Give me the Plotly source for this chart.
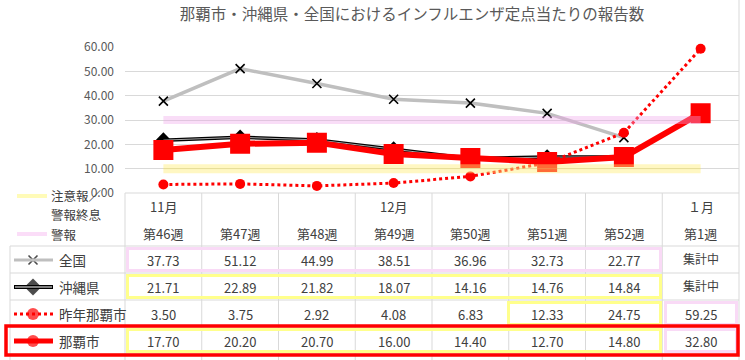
import plotly.graph_objects as go

# ---------------- data ----------------
weeks = ["第46週", "第47週", "第48週", "第49週", "第50週", "第51週", "第52週", "第1週"]
months = ["11月", "", "", "12月", "", "", "", "１月"]
zenkoku = [37.73, 51.12, 44.99, 38.51, 36.96, 32.73, 22.77, None]
okinawa = [21.71, 22.89, 21.82, 18.07, 14.16, 14.76, 14.84, None]
sakunen_naha = [3.50, 3.75, 2.92, 4.08, 6.83, 12.33, 24.75, 59.25]
naha = [17.70, 20.20, 20.70, 16.00, 14.40, 12.70, 14.80, 32.80]
chuiho_level = [10, 10, 10, 10, 10, 10, 10, 10]
keiho_level = [30, 30, 30, 30, 30, 30, 30, 30]
pending_text = "集計中"
title_text = "那覇市・沖縄県・全国におけるインフルエンザ定点当たりの報告数"
row_names = ["全国", "沖縄県", "昨年那覇市", "那覇市"]
y_ticks = [0, 10, 20, 30, 40, 50, 60]

W, H = 745, 360
FONT = "Noto Sans CJK JP"
GRID = "#D9D9D9"
TXT = "#404040"


def fx(px):
    return px / W


def fy(py):
    return 1 - py / H


xs = list(range(len(weeks)))

fig = go.Figure()

# ---------------- chart series ----------------
fig.add_trace(go.Scatter(x=xs, y=zenkoku, mode="lines+markers", name="全国",
                         line=dict(color="#BFBFBF", width=3.5),
                         marker=dict(symbol="x-thin", size=9, color="black",
                                     line=dict(color="black", width=1.6)),
                         cliponaxis=False))
fig.add_trace(go.Scatter(x=xs, y=okinawa, mode="lines+markers", name="沖縄県",
                         line=dict(color="black", width=3.5),
                         marker=dict(symbol="diamond", size=12, color="black"),
                         cliponaxis=False))
fig.add_trace(go.Scatter(x=xs, y=okinawa, mode="lines", showlegend=False,
                         line=dict(color="#A6A6A6", width=1)))
fig.add_trace(go.Scatter(x=xs, y=sakunen_naha, mode="lines+markers", name="昨年那覇市",
                         line=dict(color="#FF0000", width=3, dash="dot"),
                         marker=dict(symbol="circle", size=10, color="#FF0000"),
                         cliponaxis=False))
fig.add_trace(go.Scatter(x=xs, y=naha, mode="lines+markers", name="那覇市",
                         line=dict(color="#FF0000", width=6),
                         marker=dict(symbol="square", size=17, color="#FF0000",
                                     line=dict(color="#FF0000", width=3)),
                         cliponaxis=False))
# alert bands (semi-transparent, drawn on top)
fig.add_trace(go.Scatter(x=xs, y=chuiho_level, mode="lines", name="注意報／警報終息",
                         line=dict(color="rgba(255,238,120,0.45)", width=9)))
fig.add_trace(go.Scatter(x=xs, y=chuiho_level, mode="lines", showlegend=False,
                         line=dict(color="rgba(225,215,110,0.35)", width=1)))
fig.add_trace(go.Scatter(x=xs, y=keiho_level, mode="lines", name="警報",
                         line=dict(color="rgba(240,165,235,0.38)", width=8)))

# ---------------- layout / axes ----------------
x_dom = [fx(125), fx(739)]
y_dom = [fy(193), fy(47)]
fig.update_layout(
    width=W, height=H,
    margin=dict(l=0, r=0, t=0, b=0, pad=0, autoexpand=False),
    paper_bgcolor="white", plot_bgcolor="rgba(0,0,0,0)",
    showlegend=False, hovermode=False,
    font=dict(family=FONT, color=TXT),
    title=dict(text=title_text, x=fx(412), xanchor="center", y=fy(15), yanchor="middle",
               automargin=False,
               font=dict(family=FONT, size=15.5, color="#595959")),
    xaxis=dict(domain=x_dom, range=[-0.5, len(weeks) - 0.5], showticklabels=False,
               showgrid=False, zeroline=False, showline=False, ticks="", automargin=False),
    yaxis=dict(domain=y_dom, range=[0, 60], tickvals=y_ticks, tickformat=".2f",
               showgrid=True, gridcolor=GRID, gridwidth=1, zeroline=False,
               showline=False, ticks="", ticklabelstandoff=10, automargin=False,
               tickfont=dict(family=FONT, size=12, color="#595959")),
    xaxis2=dict(domain=[0, 1], range=[0, W], visible=False, anchor="y2", automargin=False),
    yaxis2=dict(domain=[0, 1], range=[H, 0], visible=False, anchor="x2", automargin=False),
)

shapes = []


def line(x0, y0, x1, y1, color=GRID, width=1, dash=None):
    d = dict(type="line", xref="paper", yref="paper", x0=fx(x0), y0=fy(y0),
             x1=fx(x1), y1=fy(y1), line=dict(color=color, width=width))
    if dash:
        d["line"]["dash"] = dash
    shapes.append(d)


def rect(x0, y0, x1, y1, color, width=3):
    shapes.append(dict(type="rect", xref="paper", yref="paper", x0=fx(x0), y0=fy(y0),
                       x1=fx(x1), y1=fy(y1), line=dict(color=color, width=width),
                       fillcolor="rgba(0,0,0,0)"))


# table grid
col_w = (739 - 125) / len(weeks)
line(125, 193, 739, 193)
for yy in [246, 273, 300, 327, 354]:
    line(10, yy, 739, yy)
line(10, 246, 10, 360)
for k in range(len(weeks)):
    xx = 125 + col_w * k
    line(xx, 193, xx, 360)
line(739, 0, 739, 360)

# highlight boxes
YEL = "#FFFF8C"
PNK = "#F9DAF6"
rect(127.5, 248.5, 660.5, 270.5, PNK)
rect(127.5, 275.5, 660.5, 297.5, YEL)
rect(508.5, 302.5, 660.5, 324.5, YEL)
rect(665.5, 302.5, 736.5, 324.5, PNK)
rect(127.5, 329.5, 660.5, 351.5, YEL)
rect(665.5, 329.5, 736.5, 351.5, PNK)
shapes.append(dict(type="rect", xref="paper", yref="paper", x0=fx(6), y0=fy(326),
                   x1=fx(738), y1=fy(355), line=dict(color="#FF0000", width=3.5),
                   fillcolor="rgba(0,0,0,0)"))

# legend keys (top-left)
line(17, 196, 47, 196, color="#FFFBB8", width=4)
line(17, 234, 47, 234, color="#FBDDF8", width=4)
# row legend keys
row_y = [260, 287, 314, 341]
line(14, row_y[0], 53, row_y[0], color="#BFBFBF", width=3)
line(14, row_y[1], 53, row_y[1], color="black", width=4)
line(15, row_y[1], 52, row_y[1], color="white", width=1.2)
line(14, row_y[2], 53, row_y[2], color="#FF0000", width=3, dash="dot")
line(14, row_y[3], 53, row_y[3], color="#FF0000", width=5)
fig.update_layout(shapes=shapes)

fig.add_trace(go.Scatter(x=[33, 33, 33, 33], y=row_y, xaxis="x2", yaxis="y2",
                         mode="markers", showlegend=False,
                         marker=dict(symbol=["x-thin", "diamond", "circle", "circle"],
                                     size=[9, 13, 12, 12],
                                     color=["black", "black", "#FF0000", "#FF0000"],
                                     line=dict(color="black", width=[1.6, 0, 0, 0]))))

# ---------------- annotations (table text) ----------------
ann = []


def txt(x, y, s, xref="x", size=13, anchor="center", color=TXT):
    ann.append(dict(x=x, y=fy(y), xref=xref, yref="paper", text=s, showarrow=False,
                    xanchor=anchor, yanchor="middle",
                    font=dict(family=FONT, size=size, color=color)))


for i, (m, w) in enumerate(zip(months, weeks)):
    if m:
        txt(i, 207, m)
    txt(i, 233, w)

series_rows = [zenkoku, okinawa, sakunen_naha, naha]
for r, vals in enumerate(series_rows):
    for i, v in enumerate(vals):
        s = pending_text if v is None else f"{v:.2f}"
        txt(i, row_y[r] - (2 if v is None else 0), s, size=12 if v is None else 13)

for r, name in enumerate(row_names):
    txt(fx(57), row_y[r], name, xref="paper", size=13.5, anchor="left")

txt(fx(49), 196, "注意報／", xref="paper", size=12.5, anchor="left")
txt(fx(49), 214, "警報終息", xref="paper", size=12.5, anchor="left")
txt(fx(49), 234, "警報", xref="paper", size=12.5, anchor="left")

fig.update_layout(annotations=ann)

fig.write_html("out.html", config={"displayModeBar": False, "staticPlot": True},
               post_script="document.body.style.margin='0';document.body.style.overflow='hidden';")
